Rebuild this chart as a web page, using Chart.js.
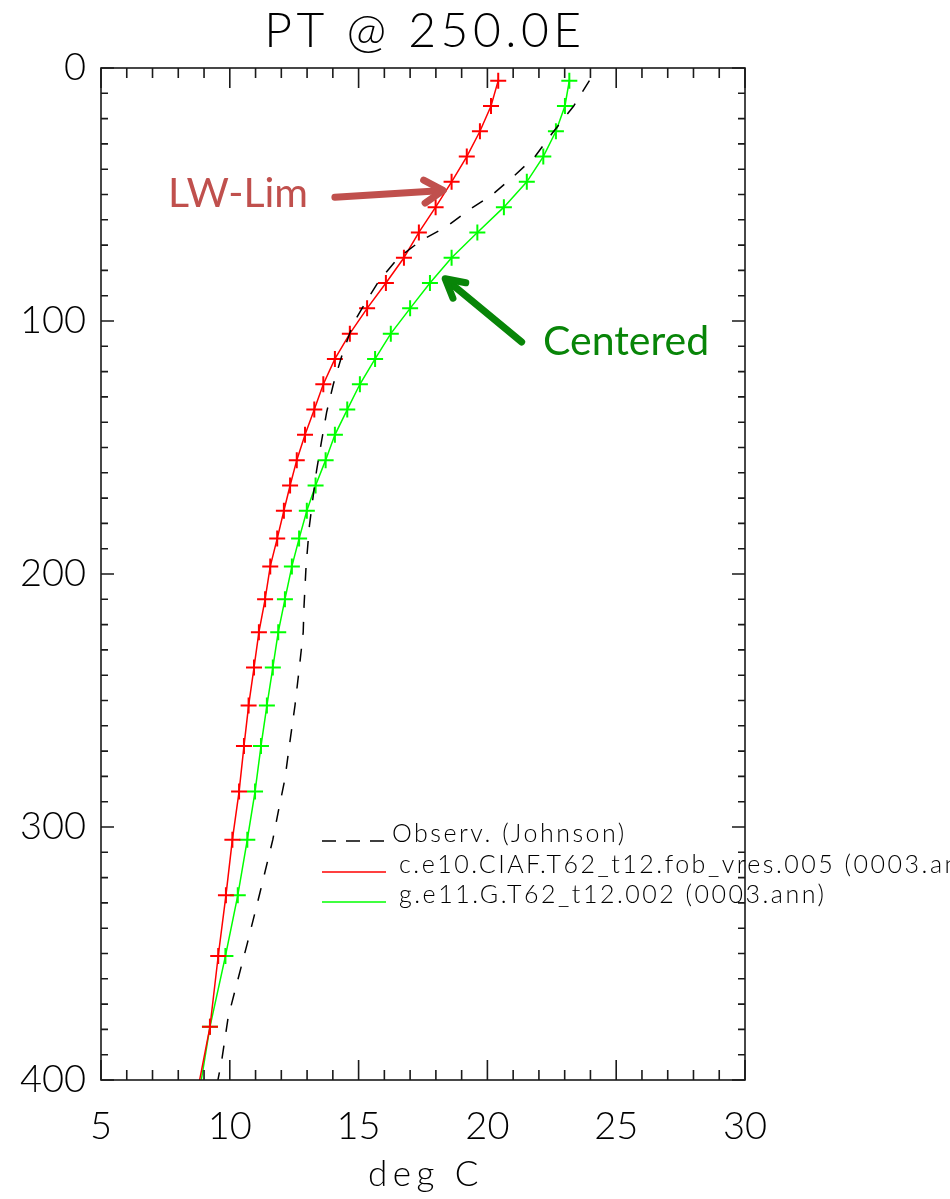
<!DOCTYPE html>
<html>
<head>
<meta charset="utf-8">
<title>PT @ 250.0E</title>
<script src="https://cdn.jsdelivr.net/npm/chart.js@4.4.0/dist/chart.umd.min.js"></script>
<style>
  html, body { margin: 0; padding: 0; background: #fff; }
  #wrap { width: 950px; height: 1199px; position: relative; }
</style>
</head>
<body>
<div id="wrap"><canvas id="ptChart"></canvas></div>
<script>
// model levels (m), same for both runs
const modelDepth = [5, 15, 25, 35, 45, 55, 65, 75, 85, 95, 105, 115, 125, 135, 145, 155, 165, 175, 186, 197, 210, 223, 237, 252, 268, 286, 305, 327, 351, 379, 412];
const lwLimTemp = [20.42, 20.14, 19.71, 19.20, 18.61, 17.99, 17.34, 16.76, 16.06, 15.33, 14.66, 14.08, 13.63, 13.28, 12.92, 12.60, 12.34, 12.10, 11.84, 11.57, 11.37, 11.13, 10.94, 10.73, 10.55, 10.36, 10.10, 9.85, 9.55, 9.23, 8.60];
const centeredTemp = [23.18, 23.01, 22.66, 22.17, 21.53, 20.64, 19.61, 18.61, 17.77, 17.00, 16.25, 15.64, 15.05, 14.56, 14.08, 13.72, 13.33, 12.99, 12.69, 12.41, 12.14, 11.88, 11.67, 11.44, 11.21, 10.98, 10.68, 10.31, 9.83, 9.23, 8.70];

// Johnson observations
const obsDepth = [5, 15, 26, 35, 43, 50, 56, 63, 68, 75, 84, 93, 101, 114, 125, 136, 147, 159, 169, 181, 197, 213, 223, 237, 252, 268, 281, 294, 305, 326, 346, 362, 375, 392, 410];
const obsTemp = [23.96, 23.35, 22.50, 21.85, 21.00, 20.20, 19.30, 18.37, 17.45, 16.54, 15.80, 15.25, 14.79, 14.34, 14.02, 13.76, 13.57, 13.37, 13.24, 13.09, 12.96, 12.88, 12.85, 12.70, 12.53, 12.31, 12.14, 11.88, 11.67, 11.17, 10.68, 10.27, 9.94, 9.69, 9.35];

const seriesNames = ['Observ. (Johnson)', 'c.e10.CIAF.T62_t12.fob_vres.005 (0003.ann)', 'g.e11.G.T62_t12.002 (0003.ann)'];
const xTicks = [5, 10, 15, 20, 25, 30];
const yTicks = [0, 100, 200, 300, 400];

// powerpoint-style callouts, anchored in data units
const notes = [
    { text: 'LW-Lim', color: '#c0504d', at: [7.6, 55.1], tail: [14.08, 51.1], tip: [18.28, 48.4], spread: 0.55, head: 22 },
    { text: 'Centered', color: '#088508', at: [22.16, 113.4], tail: [21.33, 108.3], tip: [18.36, 83.3], spread: 0.5, head: 21 }
];

const FONT = 'Lato, Roboto, "DejaVu Sans", sans-serif';

const toXY = (xs, ys) => ys.map((d, i) => ({ x: xs[i], y: d }));

function spacedText(ctx, txt, x, y, spacing) {
    if ('letterSpacing' in ctx) {
        ctx.letterSpacing = spacing + 'px';
        ctx.fillText(txt, x, y);
        ctx.letterSpacing = '0px';
    } else {
        ctx.fillText(txt, x, y);
    }
}

function drawArrow(ctx, x0, y0, x1, y1, color, spread, head) {
    const ang = Math.atan2(y1 - y0, x1 - x0);
    ctx.strokeStyle = color;
    ctx.lineWidth = 7;
    ctx.lineCap = 'round';
    ctx.lineJoin = 'round';
    ctx.beginPath();
    ctx.moveTo(x0, y0);
    ctx.lineTo(x1 - Math.cos(ang) * 4, y1 - Math.sin(ang) * 4);
    ctx.stroke();
    ctx.beginPath();
    ctx.moveTo(x1 - head * Math.cos(ang - spread), y1 - head * Math.sin(ang - spread));
    ctx.lineTo(x1, y1);
    ctx.lineTo(x1 - head * Math.cos(ang + spread), y1 - head * Math.sin(ang + spread));
    ctx.stroke();
}

const idlFrame = {
    id: 'idlFrame',
    afterDatasetsDraw(chart) {
        const { ctx, chartArea: a, scales: { x, y } } = chart;
        ctx.save();
        ctx.strokeStyle = '#1a1a1a';
        ctx.lineWidth = 1.6;
        ctx.strokeRect(a.left, a.top, a.right - a.left, a.bottom - a.top);
        ctx.beginPath();
        for (let v = x.min; v <= x.max; v++) {
            const px = x.getPixelForValue(v);
            const len = v % 5 === 0 ? 20 : 10;
            ctx.moveTo(px, a.bottom); ctx.lineTo(px, a.bottom - len);
            ctx.moveTo(px, a.top); ctx.lineTo(px, a.top + len);
        }
        for (let v = y.min; v <= y.max; v += 10) {
            const py = y.getPixelForValue(v);
            const len = v % 100 === 0 ? 13 : 7;
            ctx.moveTo(a.left, py); ctx.lineTo(a.left + len, py);
            ctx.moveTo(a.right, py); ctx.lineTo(a.right - len, py);
        }
        ctx.stroke();
        ctx.restore();
    },
    afterDraw(chart) {
        const { ctx, chartArea: a, scales: { x, y } } = chart;
        const cx = (a.left + a.right) / 2;
        ctx.save();
        ctx.fillStyle = '#000';
        ctx.textAlign = 'center';
        ctx.textBaseline = 'alphabetic';
        ctx.font = '300 48px ' + FONT;
        spacedText(ctx, 'PT @ 250.0E', cx + 2, a.top - 21, 4.5);
        ctx.font = '300 35px ' + FONT;
        spacedText(ctx, 'deg C', cx + 3, a.bottom + 106, 5.5);

        // legend, IDL style, inside the plot
        const lx = a.left + 221;
        const rows = [
            { color: '#000', dash: [14, 10], y: a.top + 774, tx: lx + 70 },
            { color: '#ff0000', dash: [], y: a.top + 805, tx: lx + 77 },
            { color: '#00ff00', dash: [], y: a.top + 835, tx: lx + 77 }
        ];
        ctx.textAlign = 'left';
        ctx.font = '300 25px ' + FONT;
        rows.forEach((r, i) => {
            ctx.strokeStyle = r.color;
            ctx.lineWidth = 1.5;
            ctx.setLineDash(r.dash);
            ctx.beginPath();
            ctx.moveTo(lx, r.y - 1);
            ctx.lineTo(lx + 64, r.y - 1);
            ctx.stroke();
            ctx.setLineDash([]);
            ctx.fillStyle = '#000';
            spacedText(ctx, seriesNames[i], r.tx, r.y, 2.5);
        });

        // callouts
        notes.forEach(n => {
            ctx.fillStyle = n.color;
            ctx.font = '41px Lato, "Open Sans", sans-serif';
            ctx.fillText(n.text, x.getPixelForValue(n.at[0]), y.getPixelForValue(n.at[1]));
            drawArrow(ctx,
                x.getPixelForValue(n.tail[0]), y.getPixelForValue(n.tail[1]),
                x.getPixelForValue(n.tip[0]), y.getPixelForValue(n.tip[1]),
                n.color, n.spread, n.head);
        });
        ctx.restore();
    }
};

const ctx = document.getElementById('ptChart').getContext('2d');
new Chart(ctx, {
    type: 'line',
    data: {
        datasets: [{
            label: seriesNames[0],
            data: toXY(obsTemp, obsDepth),
            borderColor: '#000',
            borderWidth: 1.5,
            borderDash: [13, 14],
            pointRadius: 0,
            tension: 0
        }, {
            label: seriesNames[1],
            data: toXY(lwLimTemp, modelDepth),
            borderColor: '#ff0000',
            borderWidth: 1.5,
            pointStyle: 'cross',
            pointRadius: 8,
            pointBorderWidth: 2,
            pointBorderColor: '#ff0000',
            tension: 0
        }, {
            label: seriesNames[2],
            data: toXY(centeredTemp, modelDepth),
            borderColor: '#00ff00',
            borderWidth: 1.5,
            pointStyle: 'cross',
            pointRadius: 8,
            pointBorderWidth: 2,
            pointBorderColor: '#00ff00',
            tension: 0
        }]
    },
    options: {
        responsive: true,
        maintainAspectRatio: false,
        animation: false,
        layout: { padding: { top: 68, right: 205, left: 0, bottom: 0 } },
        plugins: {
            legend: { display: false },
            title: { display: false },
            tooltip: { enabled: false }
        },
        scales: {
            x: {
                type: 'linear',
                min: 5,
                max: 30,
                grid: { display: false, drawTicks: false },
                border: { display: false },
                afterBuildTicks: s => { s.ticks = xTicks.map(v => ({ value: v })); },
                afterFit: s => { s.height = 119; },
                ticks: { color: '#000', padding: 24, font: { family: FONT, size: 38, weight: '300' } }
            },
            y: {
                type: 'linear',
                reverse: true,
                min: 0,
                max: 400,
                grid: { display: false, drawTicks: false },
                border: { display: false },
                afterBuildTicks: s => { s.ticks = yTicks.map(v => ({ value: v })); },
                afterFit: s => { s.width = 101; },
                ticks: { color: '#000', padding: 15, font: { family: FONT, size: 38, weight: '300' } }
            }
        }
    },
    plugins: [idlFrame]
});
</script>
</body>
</html>
